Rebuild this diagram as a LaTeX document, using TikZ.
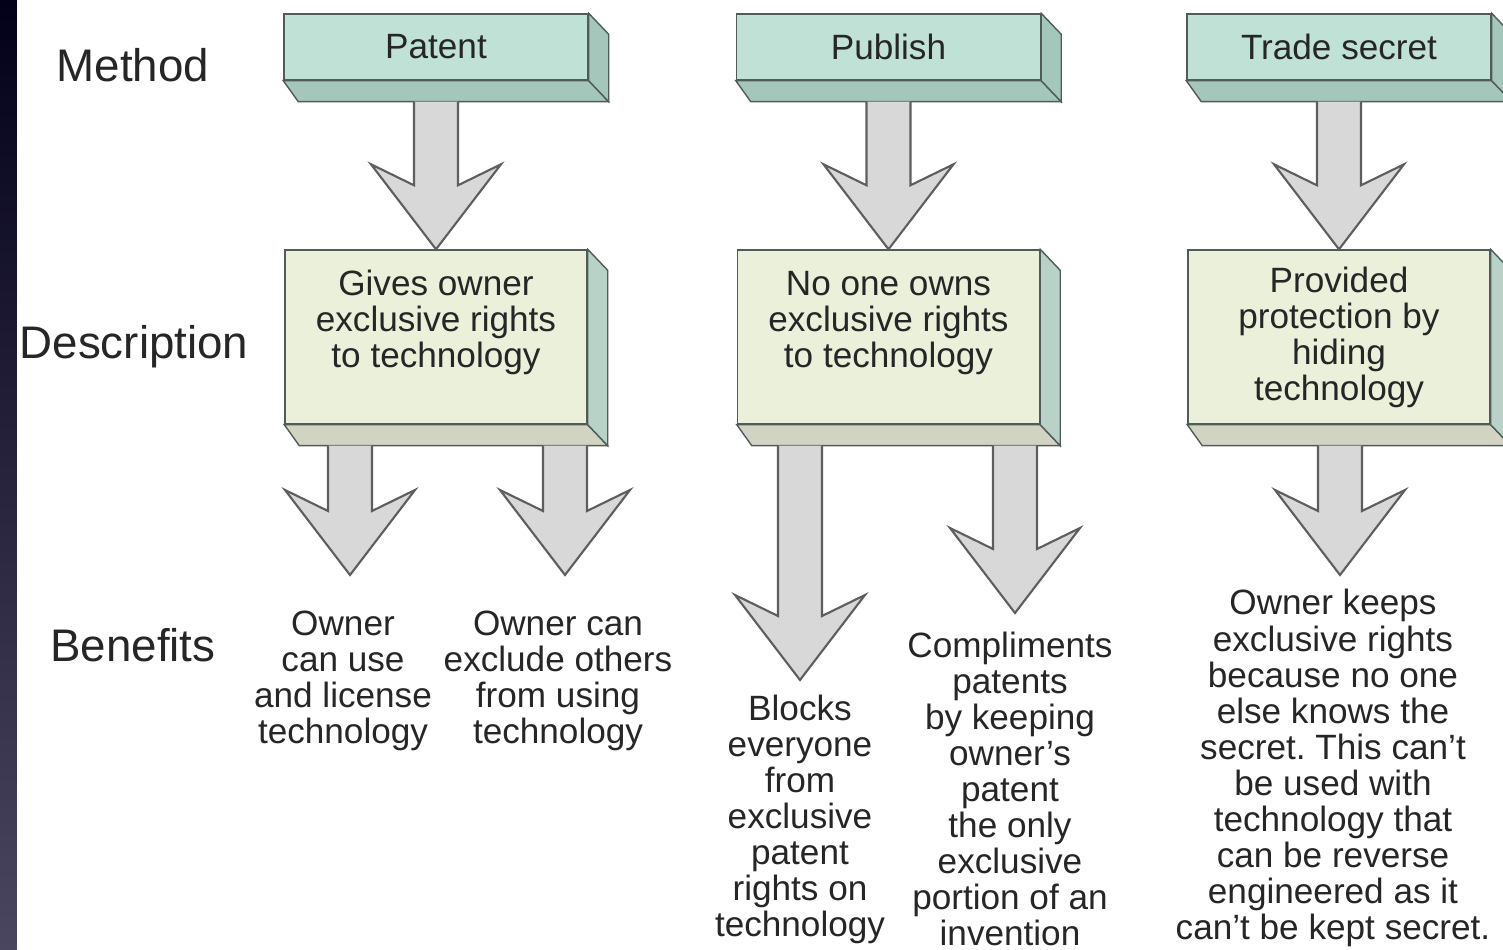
\documentclass[tikz,border=0pt]{standalone}
\usepackage{fontspec}
\setmainfont{Liberation Sans}
\usetikzlibrary{calc}
\definecolor{methodface}{HTML}{BFE1D6}
\definecolor{methodshade}{HTML}{A5C6BA}
\definecolor{descface}{HTML}{EAF0DA}
\definecolor{descbottom}{HTML}{D2D4C3}
\definecolor{descside}{HTML}{B8D2C7}
\definecolor{edgegray}{HTML}{4F5C57}
\definecolor{arrowfill}{HTML}{D8D8D8}
\definecolor{arrowedge}{HTML}{5E5E5E}
\definecolor{inkgray}{HTML}{262626}
\definecolor{stripetop}{HTML}{03001A}
\definecolor{stripebottom}{HTML}{4B465F}
% 3d slab under and right of a box node
\def\slab(#1)#2#3{%
	\filldraw[fill=#2, draw=edgegray] (#1.south west) -- (#1.south east) -- ($(#1.south east)+(0.2,-0.21)$) -- ($(#1.south west)+(0.15,-0.21)$) -- cycle;
	\filldraw[fill=#3, draw=edgegray] (#1.north east) -- ($(#1.north east)+(0.2,-0.21)$) -- ($(#1.south east)+(0.2,-0.21)$) -- (#1.south east) -- cycle;
	\coordinate (#1-b) at ($(#1.south)+(0,-0.21)$);}
% block arrow from a start point down to its tip
\def\blockarrow(#1)(#2){%
	\filldraw[blockarrow] ($(#2 |- #1)+(-0.22,0)$) -- ($(#2)+(-0.22,0.64)$) -- ($(#2)+(-0.65,0.85)$) -- (#2) -- ($(#2)+(0.65,0.85)$) -- ($(#2)+(0.22,0.64)$) -- ($(#2 |- #1)+(0.22,0)$);}

\begin{document}
\frenchspacing
\begin{tikzpicture}[
	methodbox/.style={draw=edgegray, fill=methodface, minimum width=3.04cm, minimum height=0.66cm, inner sep=0pt, text=inkgray, font=\fontsize{10}{10.25}\selectfont},
	descbox/.style={draw=edgegray, fill=descface, minimum width=3.02cm, minimum height=1.74cm, inner sep=0pt, align=center, text=inkgray, font=\fontsize{10}{10.25}\selectfont},
	benefit/.style={align=center, inner sep=0pt, text=inkgray, font=\fontsize{10}{10.25}\selectfont},
	rowlabel/.style={text=inkgray, font=\fontsize{13}{15}\selectfont},
	blockarrow/.style={fill=arrowfill, draw=arrowedge, line width=0.6pt, line join=miter}
]
	\useasboundingbox (0,0) rectangle (15.03,-9.5);
	\fill[white] (0,0) rectangle (15.03,-9.5);
	\shade[top color=stripetop, bottom color=stripebottom] (0,0) rectangle (0.17,-9.5);

	%%%%% ROW LABELS %%%%%
	\node[rowlabel] (lmethod) at (1.33,-0.65) {Method};
	\node[rowlabel] (ldesc) at (1.34,-3.47) {Description};
	\node[rowlabel] (lbenefit) at (1.33,-6.45) {Benefits};

	%%%%% METHODS %%%%%
	\node[methodbox] (patent) at (4.36,-0.47) {Patent};
	\node[methodbox] (publish) at (8.885,-0.47) {Publish};
	\node[methodbox] (secret) at (13.39,-0.47) {Trade secret};
	\slab(patent){methodshade}{methodshade}
	\slab(publish){methodshade}{methodshade}
	\slab(secret){methodshade}{methodshade}

	%%%%% DESCRIPTIONS %%%%%
	\node[descbox] (patdesc) at (4.36,-3.37) {Gives owner\\exclusive rights\\to technology\\\mbox{}};
	\node[descbox] (pubdesc) at (8.885,-3.37) {No one owns\\exclusive rights\\to technology\\\mbox{}};
	\node[descbox] (secdesc) at (13.39,-3.37) {Provided\\protection by\\hiding\\technology};
	\slab(patdesc){descbottom}{descside}
	\slab(pubdesc){descbottom}{descside}
	\slab(secdesc){descbottom}{descside}

	\blockarrow(patent-b)(patdesc.north)
	\blockarrow(publish-b)(pubdesc.north)
	\blockarrow(secret-b)(secdesc.north)

	%%%%% BENEFITS %%%%%
	\coordinate (tipuse) at (3.50,-5.75);
	\coordinate (tipexcl) at (5.65,-5.75);
	\coordinate (tipblock) at (8.00,-6.80);
	\coordinate (tipcompl) at (10.15,-6.13);
	\coordinate (tipkeep) at (13.40,-5.75);

	\blockarrow(patdesc-b)(tipuse)
	\blockarrow(patdesc-b)(tipexcl)
	\blockarrow(pubdesc-b)(tipblock)
	\blockarrow(pubdesc-b)(tipcompl)
	\blockarrow(secdesc-b)(tipkeep)

	\node[benefit] (use) at (3.43,-6.81) {Owner\\can use\\and license\\technology};
	\node[benefit] (excl) at (5.58,-6.81) {Owner can\\exclude others\\from using\\technology};
	\node[benefit] (block) at (8.00,-8.19) {Blocks\\everyone\\from\\exclusive\\patent\\rights on\\technology};
	\node[benefit] (compl) at (10.10,-7.89) {Compliments\\patents\\by keeping\\owner's\\patent\\the only\\exclusive\\portion of an\\invention};
	\node[benefit] (keep) at (13.33,-7.68) {Owner keeps\\exclusive rights\\because no one\\else knows the\\secret. This can't\\be used with\\technology that\\can be reverse\\engineered as it\\can't be kept secret.};
\end{tikzpicture}
\end{document}
